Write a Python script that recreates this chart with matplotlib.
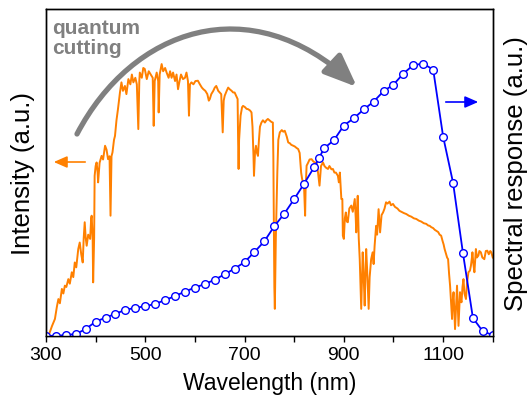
import matplotlib
matplotlib.use("Agg")
import matplotlib.pyplot as plt
from matplotlib.patches import FancyArrowPatch
from matplotlib.path import Path
from matplotlib.ticker import FixedLocator, FuncFormatter

plt.rcParams['font.family'] = ['Liberation Sans', 'DejaVu Sans']

# solar spectrum (a.u.)
wl_sun = [305, 312, 318, 322, 325, 328, 332, 335, 338, 341, 345, 348, 352, 355, 358, 361,
          365, 368, 371, 374, 376, 378, 380, 382, 385, 389, 391, 392, 394, 395, 397, 398,
          400, 402, 404, 405, 408, 412, 415, 419, 422, 425, 428, 430, 432, 434, 437, 439,
          442, 445, 447, 449, 452, 455, 459, 462, 466, 470, 473, 476, 480, 483, 486, 488,
          489, 493, 496, 499, 503, 507, 511, 515, 517, 519, 523, 526, 527, 529, 533, 536,
          540, 543, 547, 550, 553, 556, 560, 563, 566, 569, 572, 576, 580, 583, 586, 588,
          590, 593, 597, 601, 606, 610, 614, 617, 621, 625, 628, 630, 633, 637, 640, 643,
          647, 650, 653, 656, 658, 660, 664, 667, 670, 674, 677, 680, 683, 686, 687, 688,
          689, 692, 695, 697, 701, 704, 707, 711, 714, 716, 718, 719, 721, 723, 725, 727,
          729, 731, 734, 737, 741, 744, 747, 750, 754, 757, 758, 759, 760, 761, 762, 763,
          764, 766, 768, 771, 775, 778, 781, 785, 788, 791, 794, 798, 801, 805, 808, 811,
          814, 816, 818, 820, 822, 823, 825, 828, 831, 835, 838, 842, 845, 848, 851, 854,
          858, 861, 864, 868, 871, 875, 878, 881, 884, 888, 890, 892, 895, 897, 898, 900,
          902, 904, 906, 908, 911, 915, 918, 922, 924, 925, 927, 928, 930, 932, 935, 937,
          938, 940, 942, 944, 945, 947, 950, 952, 955, 958, 960, 962, 965, 967, 970, 972,
          973, 976, 979, 982, 985, 988, 992, 995, 999, 1003, 1008, 1012, 1016, 1021, 1026, 1031,
          1036, 1041, 1046, 1051, 1056, 1061, 1066, 1070, 1073, 1076, 1080, 1083, 1086, 1090, 1093, 1096,
          1099, 1101, 1103, 1106, 1108, 1110, 1112, 1114, 1116, 1118, 1119, 1121, 1123, 1124, 1126, 1128,
          1130, 1131, 1133, 1134, 1136, 1137, 1139, 1141, 1143, 1146, 1148, 1151, 1154, 1156, 1158, 1159,
          1161, 1163, 1165, 1166, 1168, 1171, 1173, 1176, 1179, 1183, 1186, 1189, 1192, 1195, 1197, 1200]
sun = [0.00, 0.03, 0.052, 0.09, 0.113, 0.10, 0.144, 0.13, 0.154, 0.15, 0.174, 0.16, 0.195, 0.18, 0.225, 0.21,
       0.266, 0.286, 0.25, 0.225, 0.30, 0.348, 0.30, 0.276, 0.31, 0.297, 0.36, 0.368, 0.30, 0.164, 0.30, 0.49,
       0.52, 0.531, 0.50, 0.47, 0.53, 0.551, 0.54, 0.582, 0.57, 0.541, 0.55, 0.368, 0.55, 0.562, 0.60, 0.612,
       0.66, 0.694, 0.72, 0.745, 0.776, 0.75, 0.765, 0.74, 0.786, 0.77, 0.80, 0.776, 0.79, 0.77, 0.633, 0.78,
       0.806, 0.79, 0.82, 0.817, 0.786, 0.81, 0.80, 0.79, 0.643, 0.78, 0.806, 0.78, 0.684, 0.80, 0.832, 0.81,
       0.82, 0.806, 0.79, 0.81, 0.79, 0.806, 0.78, 0.80, 0.755, 0.78, 0.80, 0.786, 0.79, 0.806, 0.78, 0.674,
       0.77, 0.776, 0.77, 0.78, 0.781, 0.77, 0.76, 0.755, 0.75, 0.74, 0.72, 0.725, 0.74, 0.75, 0.76, 0.765,
       0.75, 0.745, 0.74, 0.623, 0.72, 0.735, 0.75, 0.76, 0.755, 0.75, 0.745, 0.745, 0.735, 0.725, 0.60, 0.511,
       0.60, 0.674, 0.70, 0.704, 0.70, 0.695, 0.694, 0.69, 0.684, 0.64, 0.55, 0.49, 0.56, 0.582, 0.56, 0.551,
       0.60, 0.64, 0.653, 0.66, 0.653, 0.66, 0.664, 0.66, 0.655, 0.653, 0.55, 0.337, 0.15, 0.083, 0.20, 0.30,
       0.368, 0.50, 0.60, 0.623, 0.63, 0.625, 0.628, 0.61, 0.592, 0.59, 0.585, 0.582, 0.58, 0.575, 0.572, 0.56,
       0.50, 0.48, 0.47, 0.45, 0.368, 0.45, 0.521, 0.53, 0.54, 0.541, 0.535, 0.53, 0.531, 0.50, 0.46, 0.52,
       0.531, 0.52, 0.515, 0.511, 0.52, 0.51, 0.511, 0.50, 0.50, 0.49, 0.47, 0.50, 0.419, 0.419, 0.307, 0.297,
       0.36, 0.378, 0.35, 0.348, 0.39, 0.399, 0.38, 0.419, 0.36, 0.317, 0.40, 0.429, 0.30, 0.235, 0.083, 0.20,
       0.256, 0.18, 0.093, 0.22, 0.266, 0.20, 0.083, 0.18, 0.235, 0.256, 0.22, 0.276, 0.337, 0.31, 0.388, 0.34,
       0.317, 0.37, 0.378, 0.39, 0.409, 0.405, 0.411, 0.40, 0.404, 0.395, 0.39, 0.383, 0.38, 0.376, 0.373, 0.368,
       0.365, 0.36, 0.358, 0.353, 0.35, 0.345, 0.343, 0.338, 0.337, 0.333, 0.33, 0.325, 0.322, 0.318, 0.31, 0.307,
       0.29, 0.28, 0.266, 0.25, 0.24, 0.235, 0.19, 0.154, 0.10, 0.052, 0.10, 0.134, 0.06, 0.021, 0.09, 0.154,
       0.07, 0.031, 0.10, 0.134, 0.11, 0.103, 0.15, 0.174, 0.13, 0.113, 0.16, 0.195, 0.20, 0.215, 0.24, 0.256,
       0.22, 0.195, 0.24, 0.266, 0.24, 0.246, 0.26, 0.256, 0.24, 0.235, 0.26, 0.261, 0.25, 0.26, 0.256, 0.24]

# spectral response of the cell (a.u.)
wl_sr = [300, 320, 340, 360, 380, 400, 420, 440, 460, 480, 500, 520, 540, 560, 580, 600,
         620, 640, 660, 680, 700, 720, 740, 760, 780, 800, 820, 840, 850, 860, 880, 900,
         920, 940, 960, 980, 1000, 1020, 1040, 1060, 1080, 1100, 1120, 1140, 1160, 1180, 1200]
sr = [0.001, 0.0, 0.003, 0.006, 0.021, 0.044, 0.056, 0.068, 0.080, 0.086, 0.091, 0.098, 0.110, 0.122, 0.136, 0.148,
      0.159, 0.172, 0.189, 0.206, 0.226, 0.257, 0.290, 0.336, 0.374, 0.419, 0.466, 0.516, 0.544, 0.574, 0.599, 0.644,
      0.666, 0.693, 0.717, 0.749, 0.769, 0.803, 0.829, 0.833, 0.815, 0.610, 0.469, 0.253, 0.055, 0.014, 0.003]

xticks = [300, 400, 500, 600, 700, 800, 900, 1000, 1100, 1200]

orange = '#FF8000'
blue = '#0000FF'
grey = '#808080'

fig = plt.figure(figsize=(5.31, 4.06), dpi=100)
ax = fig.add_axes([0.0866, 0.170, 0.8414, 0.805])
ax.plot(wl_sun, sun, color=orange, lw=1.4)
ax.set_xlim(300, 1200)
ax.set_ylim(0, 1)
ax.set_yticks([])
ax.xaxis.set_major_locator(FixedLocator(xticks))
ax.xaxis.set_major_formatter(FuncFormatter(lambda v, p: '%d' % v if v % 200 == 100 else ''))
ax.tick_params(axis='x', direction='out', length=4, width=1, labelsize=14, pad=3)
ax.set_xlabel('Wavelength (nm)', fontsize=16.5, labelpad=6)
ax.set_ylabel('Intensity (a.u.)', fontsize=18.5, labelpad=8)

ax2 = ax.twinx()
ax2.plot(wl_sr, sr, color=blue, lw=1.3, marker='o', ms=5.5, mfc='white', mec=blue, mew=1.0)
ax2.set_ylim(0, 1)
ax2.set_yticks([])
ax2.set_ylabel('Spectral response (a.u.)', fontsize=18.5, labelpad=8)

for a in (ax, ax2):
    for s in a.spines.values():
        s.set_linewidth(1.0)

# annotations placed in figure pixels of the 531x406 picture
def fp(x, y):
    return (x / 531, 1 - y / 406)

arc = Path([fp(77, 135), fp(132, 30), fp(250, -12), fp(357, 88)],
           [Path.MOVETO, Path.CURVE4, Path.CURVE4, Path.CURVE4])
fig.patches.append(FancyArrowPatch(path=arc, transform=fig.transFigure,
                                   arrowstyle='-|>,head_length=1.1,head_width=0.45',
                                   mutation_scale=18, lw=3.8, color=grey))
fig.text(*fp(52, 19), 'quantum\ncutting', color=grey, fontsize=15, fontweight='bold',
         va='top', ha='left', linespacing=1.05)

fig.patches.append(FancyArrowPatch(fp(88, 163), fp(51, 163), transform=fig.transFigure,
                                   arrowstyle='-|>,head_length=0.8,head_width=0.35',
                                   mutation_scale=10, lw=1.2, color=orange))
fig.patches.append(FancyArrowPatch(fp(443, 103), fp(481, 103), transform=fig.transFigure,
                                   arrowstyle='-|>,head_length=0.8,head_width=0.35',
                                   mutation_scale=10, lw=1.2, color=blue))

fig.savefig('out.png', dpi=100)
